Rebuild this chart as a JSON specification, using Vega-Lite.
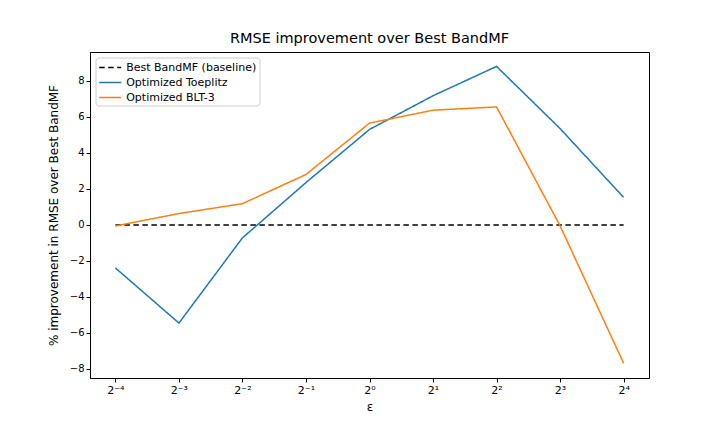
{
  "$schema": "https://vega.github.io/schema/vega-lite/v6.json",
  "width": 559,
  "height": 326,
  "autosize": {"type": "none"},
  "padding": {"left": 90, "top": 52, "right": 71, "bottom": 54},
  "background": "white",
  "config": {
    "font": "DejaVu Sans",
    "view": {"stroke": "black", "strokeWidth": 1},
    "axis": {"grid": false, "domainColor": "black", "tickColor": "black", "labelColor": "black", "titleColor": "black", "labelFontSize": 10, "titleFontSize": 12, "titleFontWeight": "normal", "tickSize": 4}
  },
  "title": {"text": "RMSE improvement over Best BandMF", "fontSize": 14.5, "fontWeight": "normal", "font": "DejaVu Sans", "offset": 6},
  "data": {
    "values": [
      {"eps": 0.0625, "series": "Best BandMF (baseline)", "value": 0},
      {"eps": 0.125, "series": "Best BandMF (baseline)", "value": 0},
      {"eps": 0.25, "series": "Best BandMF (baseline)", "value": 0},
      {"eps": 0.5, "series": "Best BandMF (baseline)", "value": 0},
      {"eps": 1, "series": "Best BandMF (baseline)", "value": 0},
      {"eps": 2, "series": "Best BandMF (baseline)", "value": 0},
      {"eps": 4, "series": "Best BandMF (baseline)", "value": 0},
      {"eps": 8, "series": "Best BandMF (baseline)", "value": 0},
      {"eps": 16, "series": "Best BandMF (baseline)", "value": 0},
      {"eps": 0.0625, "series": "Optimized Toeplitz", "value": -2.39},
      {"eps": 0.125, "series": "Optimized Toeplitz", "value": -5.45},
      {"eps": 0.25, "series": "Optimized Toeplitz", "value": -0.72},
      {"eps": 0.5, "series": "Optimized Toeplitz", "value": 2.35},
      {"eps": 1, "series": "Optimized Toeplitz", "value": 5.3},
      {"eps": 2, "series": "Optimized Toeplitz", "value": 7.17},
      {"eps": 4, "series": "Optimized Toeplitz", "value": 8.8},
      {"eps": 8, "series": "Optimized Toeplitz", "value": 5.35},
      {"eps": 16, "series": "Optimized Toeplitz", "value": 1.53},
      {"eps": 0.0625, "series": "Optimized BLT-3", "value": -0.06},
      {"eps": 0.125, "series": "Optimized BLT-3", "value": 0.63},
      {"eps": 0.25, "series": "Optimized BLT-3", "value": 1.18},
      {"eps": 0.5, "series": "Optimized BLT-3", "value": 2.8},
      {"eps": 1, "series": "Optimized BLT-3", "value": 5.65},
      {"eps": 2, "series": "Optimized BLT-3", "value": 6.37},
      {"eps": 4, "series": "Optimized BLT-3", "value": 6.55},
      {"eps": 8, "series": "Optimized BLT-3", "value": -0.05},
      {"eps": 16, "series": "Optimized BLT-3", "value": -7.68}
    ]
  },
  "mark": {"type": "line", "strokeWidth": 1.5, "clip": true},
  "encoding": {
    "x": {
      "field": "eps", "type": "quantitative",
      "scale": {"type": "log", "base": 2, "domain": [0.04737, 21.11], "nice": false},
      "axis": {
        "title": "ε",
        "values": [0.0625, 0.125, 0.25, 0.5, 1, 2, 4, 8, 16],
        "labelExpr": "['2⁻⁴','2⁻³','2⁻²','2⁻¹','2⁰','2¹','2²','2³','2⁴'][round(log(datum.value)/LN2)+4]",
        "labelFontSize": 11,
        "titlePadding": 6
      }
    },
    "y": {
      "field": "value", "type": "quantitative",
      "scale": {"domain": [-8.5, 9.6], "nice": false, "zero": false},
      "axis": {"title": "% improvement in RMSE over Best BandMF", "values": [-8, -6, -4, -2, 0, 2, 4, 6, 8], "titlePadding": 9}
    },
    "color": {
      "field": "series", "type": "nominal",
      "scale": {"domain": ["Best BandMF (baseline)", "Optimized Toeplitz", "Optimized BLT-3"], "range": ["black", "#1f77b4", "#ff7f0e"]},
      "legend": {
        "title": null, "orient": "none", "legendX": 5.5, "legendY": 5.5,
        "symbolType": "M-1.8,0H1.8", "symbolSize": 150, "symbolStrokeWidth": 1.5,
        "symbolOffset": 4.7, "labelOffset": 9,
        "labelFontSize": 11, "labelColor": "black",
        "fillColor": "white", "strokeColor": "#cccccc", "cornerRadius": 3, "padding": 3, "rowPadding": 3
      }
    },
    "strokeDash": {
      "field": "series", "type": "nominal",
      "scale": {"domain": ["Best BandMF (baseline)", "Optimized Toeplitz", "Optimized BLT-3"], "range": [[5.5, 3.5], [1, 0], [1, 0]]},
      "legend": null
    }
  }
}
